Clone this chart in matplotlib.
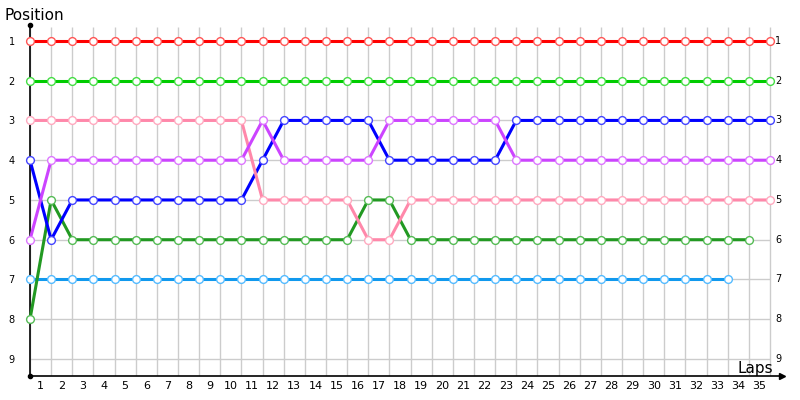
import matplotlib.pyplot as plt

# lap-by-lap positions, lap 0 = grid
red = [1, 1, 1, 1, 1, 1, 1, 1, 1, 1, 1, 1, 1, 1, 1, 1, 1, 1, 1, 1, 1, 1, 1, 1, 1, 1, 1, 1, 1, 1, 1, 1, 1, 1, 1, 1]
green = [2, 2, 2, 2, 2, 2, 2, 2, 2, 2, 2, 2, 2, 2, 2, 2, 2, 2, 2, 2, 2, 2, 2, 2, 2, 2, 2, 2, 2, 2, 2, 2, 2, 2, 2, 2]
pink = [3, 3, 3, 3, 3, 3, 3, 3, 3, 3, 3, 5, 5, 5, 5, 5, 6, 6, 5, 5, 5, 5, 5, 5, 5, 5, 5, 5, 5, 5, 5, 5, 5, 5, 5, 5]
purple = [6, 4, 4, 4, 4, 4, 4, 4, 4, 4, 4, 3, 4, 4, 4, 4, 4, 3, 3, 3, 3, 3, 3, 4, 4, 4, 4, 4, 4, 4, 4, 4, 4, 4, 4, 4]
blue = [4, 6, 5, 5, 5, 5, 5, 5, 5, 5, 5, 4, 3, 3, 3, 3, 3, 4, 4, 4, 4, 4, 4, 3, 3, 3, 3, 3, 3, 3, 3, 3, 3, 3, 3, 3]
darkgreen = [8, 5, 6, 6, 6, 6, 6, 6, 6, 6, 6, 6, 6, 6, 6, 6, 5, 5, 6, 6, 6, 6, 6, 6, 6, 6, 6, 6, 6, 6, 6, 6, 6, 6, 6]
lightblue = [7, 7, 7, 7, 7, 7, 7, 7, 7, 7, 7, 7, 7, 7, 7, 7, 7, 7, 7, 7, 7, 7, 7, 7, 7, 7, 7, 7, 7, 7, 7, 7, 7, 7]

n_laps = 35
positions = [1, 2, 3, 4, 5, 6, 7, 8, 9]

# (data, line colour, marker edge colour)
series = [
    (lightblue, '#1199ee', '#55bbff'),
    (darkgreen, '#229922', '#55bb55'),
    (blue, '#0000ff', '#4444ff'),
    (pink, '#ff88aa', '#ffaac0'),
    (purple, '#cc44ff', '#dd77ff'),
    (green, '#00cc00', '#44dd44'),
    (red, '#ff0000', '#ff5555'),
]

fig = plt.figure(figsize=(8, 4), dpi=100)
ax = fig.add_axes([30 / 800, 1 - 375.7 / 400, 752 / 800, 350.7 / 400])
ax.set_xlim(0, 752 / (740 / n_laps))
ax.set_ylim(9.42, 0.6)

laps_all = list(range(n_laps + 1))
ax.vlines(laps_all, 9.42, 0.65, color='#cccccc', lw=1, zorder=0)
ax.hlines(positions, 0, n_laps, color='#cccccc', lw=1, zorder=0)

for data, col, edge in series:
    ax.plot(range(len(data)), data, color=col, lw=2.2, marker='o', ms=5.6,
            mfc='white', mec=edge, mew=1.0, zorder=3, clip_on=False)

for sp in ['top', 'right']:
    ax.spines[sp].set_visible(False)
ax.spines['left'].set_linewidth(1.2)
ax.spines['bottom'].set_linewidth(1.2)
ax.plot(0, 1, 'ok', ms=3, transform=ax.transAxes, clip_on=False)
ax.plot(0, 0, 'ok', ms=3, transform=ax.transAxes, clip_on=False)
ax.plot(1, 0, '>k', ms=5, transform=ax.transAxes, clip_on=False)

ax.set_yticks(positions)
ax.set_yticklabels([str(p) for p in positions], fontsize=7)
ax.set_xticks([l - 0.5 for l in range(1, n_laps + 1)])
ax.set_xticklabels([str(l) for l in range(1, n_laps + 1)], fontsize=8)
ax.tick_params(axis='y', length=0, pad=11)
ax.tick_params(axis='x', length=0, pad=4)

for p in positions:
    ax.text(n_laps + 0.25, p, str(p), fontsize=7, va='center', ha='left')

fig.text(4 / 800, 1 - 15 / 400, 'Position', fontsize=11, va='center', ha='left')
ax.text(35.15, 9.25, 'Laps', fontsize=11, va='center', ha='right')

fig.savefig('out.png', dpi=100)
